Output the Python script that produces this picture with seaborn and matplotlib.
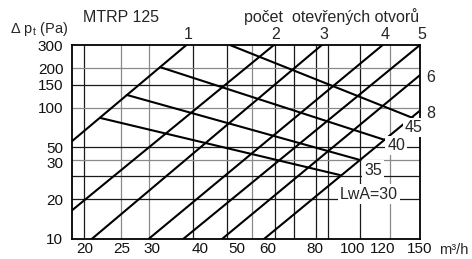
import pandas as pd
import matplotlib
matplotlib.use('Agg')
import matplotlib.pyplot as plt
import seaborn as sns

# počet otevřených otvorů: začátek a konec každé čáry (q m3/h, dp Pa)
otvory = ['1', '2', '3', '4', '5', '6', '8']
otv_q0 = [18.6, 18.6, 20.9, 29.4, 36.2, 45.7, 58.8]
otv_dp0 = [55.8, 16.6, 10, 10, 10, 10, 10]
otv_q1 = [36.9, 62.4, 83.2, 119.9, 150, 150, 150]
otv_dp1 = [300, 300, 300, 300, 300, 177, 95]

# hladiny akustického výkonu LwA
lwa = [30, 35, 40, 45]
lwa_q0 = [22.0, 25.8, 31.8, 47.9]
lwa_dp0 = [83.5, 125, 201.7, 300]
lwa_q1 = [92.7, 104.5, 121.4, 143.6]
lwa_dp1 = [30.7, 40.0, 56.8, 83.5]

# osy
x_ticks = [20, 25, 30, 40, 50, 60, 80, 100, 120, 150]
y_ticks = [10, 20, 38, 50, 100, 150, 200, 300]
y_labels = ['10', '20', '30', '50', '100', '150', '200', '300']
x_grid = [20, 24.9, 29.4, 38.4, 47.0, 54.6, 62.8, 70.5, 80.2, 86.4, 104.5, 125.1]
y_grid = [20, 30, 40, 50, 100, 150, 200]
x_grid_light = [24.9, 29.4, 54.6, 125.1]
y_grid_light = [40, 100, 200]

sns.set_theme(style='white')
plt.rcParams['font.family'] = ['Liberation Sans', 'DejaVu Sans']

rows = []
for i, name in enumerate(otvory):
    rows.append({'line': 'o' + name, 'q': otv_q0[i], 'dp': otv_dp0[i]})
    rows.append({'line': 'o' + name, 'q': otv_q1[i], 'dp': otv_dp1[i]})
for i, lev in enumerate(lwa):
    rows.append({'line': 'L%d' % lev, 'q': lwa_q0[i], 'dp': lwa_dp0[i]})
    rows.append({'line': 'L%d' % lev, 'q': lwa_q1[i], 'dp': lwa_dp1[i]})
df = pd.DataFrame(rows)

W, H = 472, 259
fig = plt.figure(figsize=(W / 100, H / 100), dpi=100)
ax = fig.add_axes([72.3 / W, (H - 239) / H, (420 - 72.3) / W, (239 - 45) / H])
ax.set_xscale('log')
ax.set_yscale('log')

# mřížka
for x in x_grid:
    c = '#8a8a8a' if x in x_grid_light else '#1a1a1a'
    ax.axvline(x, color=c, lw=0.9, zorder=1)
for y in y_grid:
    c = '#8a8a8a' if y in y_grid_light else '#1a1a1a'
    ax.axhline(y, color=c, lw=0.9, zorder=1)

sns.lineplot(data=df, x='q', y='dp', units='line', estimator=None, sort=False,
             color='black', lw=1.5, ax=ax, zorder=3, legend=False)

ax.set_xlim(18.6, 150)
ax.set_ylim(10, 300)
ax.minorticks_off()
ax.set_xticks(x_ticks, [str(v) for v in x_ticks])
ax.set_yticks(y_ticks, y_labels)
ax.tick_params(length=0, labelsize=11, colors='#111111')
ax.tick_params(axis='x', pad=2.5)
ax.tick_params(axis='y', pad=6.5)
ax.set_xlabel('')
ax.set_ylabel('')
for s in ax.spines.values():
    s.set_color('black')
    s.set_linewidth(1.3)

fs = 11.5
# popisky čar
for i, name in enumerate(otvory[:5]):
    ax.annotate(name, xy=(otv_q1[i], 300), xytext=(1.5, 2), textcoords='offset points',
                ha='center', va='bottom', fontsize=fs, annotation_clip=False)
for i, name in zip([5, 6], otvory[5:]):
    ax.annotate(name, xy=(150, otv_dp1[i]), xytext=(7.5, -2), textcoords='offset points',
                ha='center', va='center', fontsize=fs, annotation_clip=False)

box = dict(facecolor='white', edgecolor='none', pad=1.5)
ax.text(144.4, 70.7, '45', ha='center', va='center', fontsize=fs, bbox=box, zorder=5, clip_on=False)
ax.text(130.2, 51.5, '40', ha='center', va='center', fontsize=fs, bbox=box, zorder=5)
ax.text(113.3, 33.5, '35', ha='center', va='center', fontsize=fs, bbox=box, zorder=5)
ax.text(110.2, 22.0, 'LwA=30', ha='center', va='center', fontsize=fs, bbox=box, zorder=5)

fig.text(10 / W, 1 - 29 / H, r'Δ p$_\mathregular{t}$ (Pa)', ha='left', va='center', fontsize=10.5)
fig.text(121 / W, 1 - 17 / H, 'MTRP 125', ha='center', va='center', fontsize=fs)
fig.text(332 / W, 1 - 17 / H, 'počet  otevřených otvorů', ha='center', va='center', fontsize=fs)
fig.text(439 / W, 1 - 250 / H, 'm³/h', ha='left', va='center', fontsize=10.5)

fig.savefig('out.png', dpi=100)
